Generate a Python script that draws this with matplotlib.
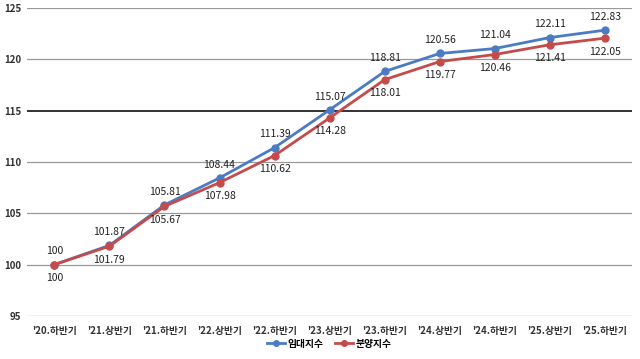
import matplotlib
matplotlib.use("Agg")
import matplotlib.pyplot as plt

plt.rcParams['font.family'] = ['Noto Sans CJK KR', 'DejaVu Sans']

periods = ["'20.하반기", "'21.상반기", "'21.하반기", "'22.상반기", "'22.하반기", "'23.상반기",
           "'23.하반기", "'24.상반기", "'24.하반기", "'25.상반기", "'25.하반기"]
rent_idx = [100, 101.87, 105.81, 108.44, 111.39, 115.07, 118.81, 120.56, 121.04, 122.11, 122.83]
sale_idx = [100, 101.79, 105.67, 107.98, 110.62, 114.28, 118.01, 119.77, 120.46, 121.41, 122.05]

blue = '#4a7bc4'
red = '#c54b4b'

fig = plt.figure(figsize=(6.4, 3.59), dpi=100)
ax = fig.add_axes([0.042, 0.12, 0.946, 0.858])

x = list(range(len(periods)))

# 격자선 (115선은 검정)
for yv in [95, 100, 105, 110, 120, 125]:
    ax.axhline(yv, color='#999999', lw=0.9, zorder=0)
ax.axhline(115, color='#111111', lw=1.2, zorder=0)

ax.plot(x, rent_idx, color=blue, lw=2, marker='o', ms=5, label='임대지수', zorder=3)
ax.plot(x, sale_idx, color=red, lw=2, marker='o', ms=5, label='분양지수', zorder=3)

for i in x:
    ax.annotate(f"{rent_idx[i]:g}", (i, rent_idx[i]), xytext=(0, 6), textcoords='offset points',
                ha='center', va='bottom', fontsize=7.5, color='#222222', fontweight='medium')
    ax.annotate(f"{sale_idx[i]:g}", (i, sale_idx[i]), xytext=(0, -6), textcoords='offset points',
                ha='center', va='top', fontsize=7.5, color='#222222', fontweight='medium')

ax.set_xlim(-0.5, len(periods) - 0.5)
ax.set_ylim(95, 125)
ax.set_yticks([95, 100, 105, 110, 115, 120, 125])
ax.set_xticks(x)
ax.set_xticklabels(periods)
ax.tick_params(axis='both', length=0, labelsize=7, colors='#333333')
ax.tick_params(axis='x', pad=7)
ax.tick_params(axis='y', pad=4)
for lab in ax.get_xticklabels() + ax.get_yticklabels():
    lab.set_fontweight('bold')
for s in ax.spines.values():
    s.set_visible(False)

ax.legend(loc='center', bbox_to_anchor=(0.5, -0.09), ncol=2, frameon=False,
          handlelength=1.8, columnspacing=1.2, handletextpad=0.3, markerscale=0.8,
          borderpad=0, prop={'weight': 'bold', 'size': 7})

fig.savefig('out.png', dpi=100)
